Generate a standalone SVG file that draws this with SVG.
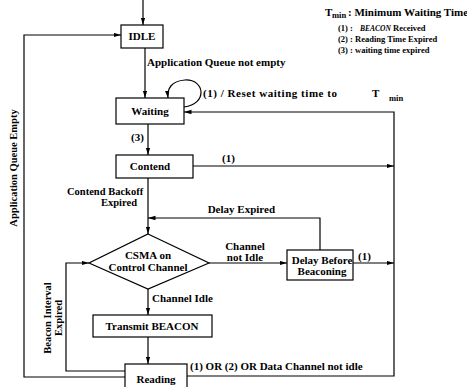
<svg xmlns="http://www.w3.org/2000/svg" width="467" height="387" viewBox="0 0 467 387">
<defs>
<marker id="ah" markerWidth="8" markerHeight="5" refX="7.5" refY="2.25" orient="auto" markerUnits="userSpaceOnUse"><path d="M0,0 L7.5,2.25 L0,4.5 z" fill="#000"/></marker>
<style>
text{font-family:"Liberation Serif","Times New Roman",serif;font-weight:bold;fill:#000}
.n{font-size:11px;text-anchor:middle}
.l{font-size:11px}
.g{font-size:8.5px}
.box{fill:#fff;stroke:#000;stroke-width:1.2}
.c{fill:none;stroke:#000;stroke-width:1.2}
.a{marker-end:url(#ah)}
</style>
</defs>
<rect width="467" height="387" fill="#fff"/>
<g id="legend">
<text x="325" y="16" style="font-size:11px">T</text>
<text class="g" x="332" y="18">min</text>
<text x="348" y="16" style="font-size:11px">: Minimum Waiting Time</text>
<text class="g" x="338" y="31">(1) : <tspan font-style="italic" font-size="7.5" x="360">BEACON</tspan><tspan x="393">Received</tspan></text>
<text class="g" x="338" y="42">(2) : Reading Time Expired</text>
<text class="g" x="338" y="53">(3) :  waiting time expired</text>
</g>
<g id="connectors">
<path class="c a" d="M143,0 V25"/>
<path class="c a" d="M145,48 V98"/>
<path class="c a" d="M184,107 C208,104 205,79 185,80 C171,81 167,89 168,98"/>
<path class="c a" d="M148,124 V155"/>
<path class="c a" d="M193,166 H394"/>
<path class="c a" d="M187,376 H394 V112 H184"/>
<path class="c a" d="M148,178 V234"/>
<path class="c a" d="M320,250 V218 H148"/>
<path class="c a" d="M209,263 H287"/>
<path class="c a" d="M353,263 H394"/>
<path class="c a" d="M148,289 V315"/>
<path class="c a" d="M148,337 V364"/>
<path class="c a" d="M125,371 H66 V263 H89"/>
<path class="c a" d="M125,377 H24 V35 H121"/>
</g>
<g id="labels">
<text class="l" x="147" y="66">Application Queue not empty</text>
<text class="l" x="203" y="97" textLength="134">(1) / Reset waiting time to</text>
<text class="l" x="372" y="97">T</text>
<text class="g" x="389" y="101">min</text>
<text class="l" x="131" y="141">(3)</text>
<text class="l" x="222" y="162">(1)</text>
<text class="l" x="67" y="195" style="font-size:10.5px">Contend Backoff</text>
<text class="l" x="101" y="206" style="font-size:10.5px">Expired</text>
<text class="l" x="275" y="213" text-anchor="end">Delay Expired</text>
<text class="l" x="245" y="250" text-anchor="middle">Channel</text>
<text class="l" x="245" y="261" text-anchor="middle">not Idle</text>
<text class="l" x="358" y="260">(1)</text>
<text class="l" x="152" y="302">Channel Idle</text>
<text class="l" x="190" y="370">(1) OR (2) OR Data Channel not idle</text>
<text class="l" transform="translate(51,318) rotate(-90)" text-anchor="middle" style="font-size:10.5px">Beacon Interval</text>
<text class="l" transform="translate(62,318) rotate(-90)" text-anchor="middle" style="font-size:10.5px">Expired</text>
<text class="l" transform="translate(17,168) rotate(-90)" text-anchor="middle" style="font-size:10.5px">Application Queue Empty</text>
</g>
<g id="idle"><rect class="box" x="121" y="25" width="42" height="23"/><text class="n" x="142" y="40">IDLE</text></g>
<g id="waiting"><rect class="box" x="116" y="98" width="68" height="26"/><text class="n" x="150" y="115">Waiting</text></g>
<g id="contend"><rect class="box" x="116" y="155" width="77" height="23"/><text class="n" x="150" y="170">Contend</text></g>
<g id="csma"><polygon class="box" points="148,234 209,263 148,289 89,263"/><text class="n" x="148" y="259">CSMA on</text><text class="n" x="148" y="271">Control Channel</text></g>
<g id="delay"><rect class="box" x="287" y="250" width="66" height="30"/><text class="n" x="322" y="264">Delay Before</text><text class="n" x="322" y="275">Beaconing</text></g>
<g id="transmit"><rect class="box" x="93" y="315" width="119" height="22"/><text class="n" x="152" y="330">Transmit BEACON</text></g>
<g id="reading"><rect class="box" x="125" y="364" width="62" height="30"/><text class="n" x="156" y="383">Reading</text></g>
</svg>
